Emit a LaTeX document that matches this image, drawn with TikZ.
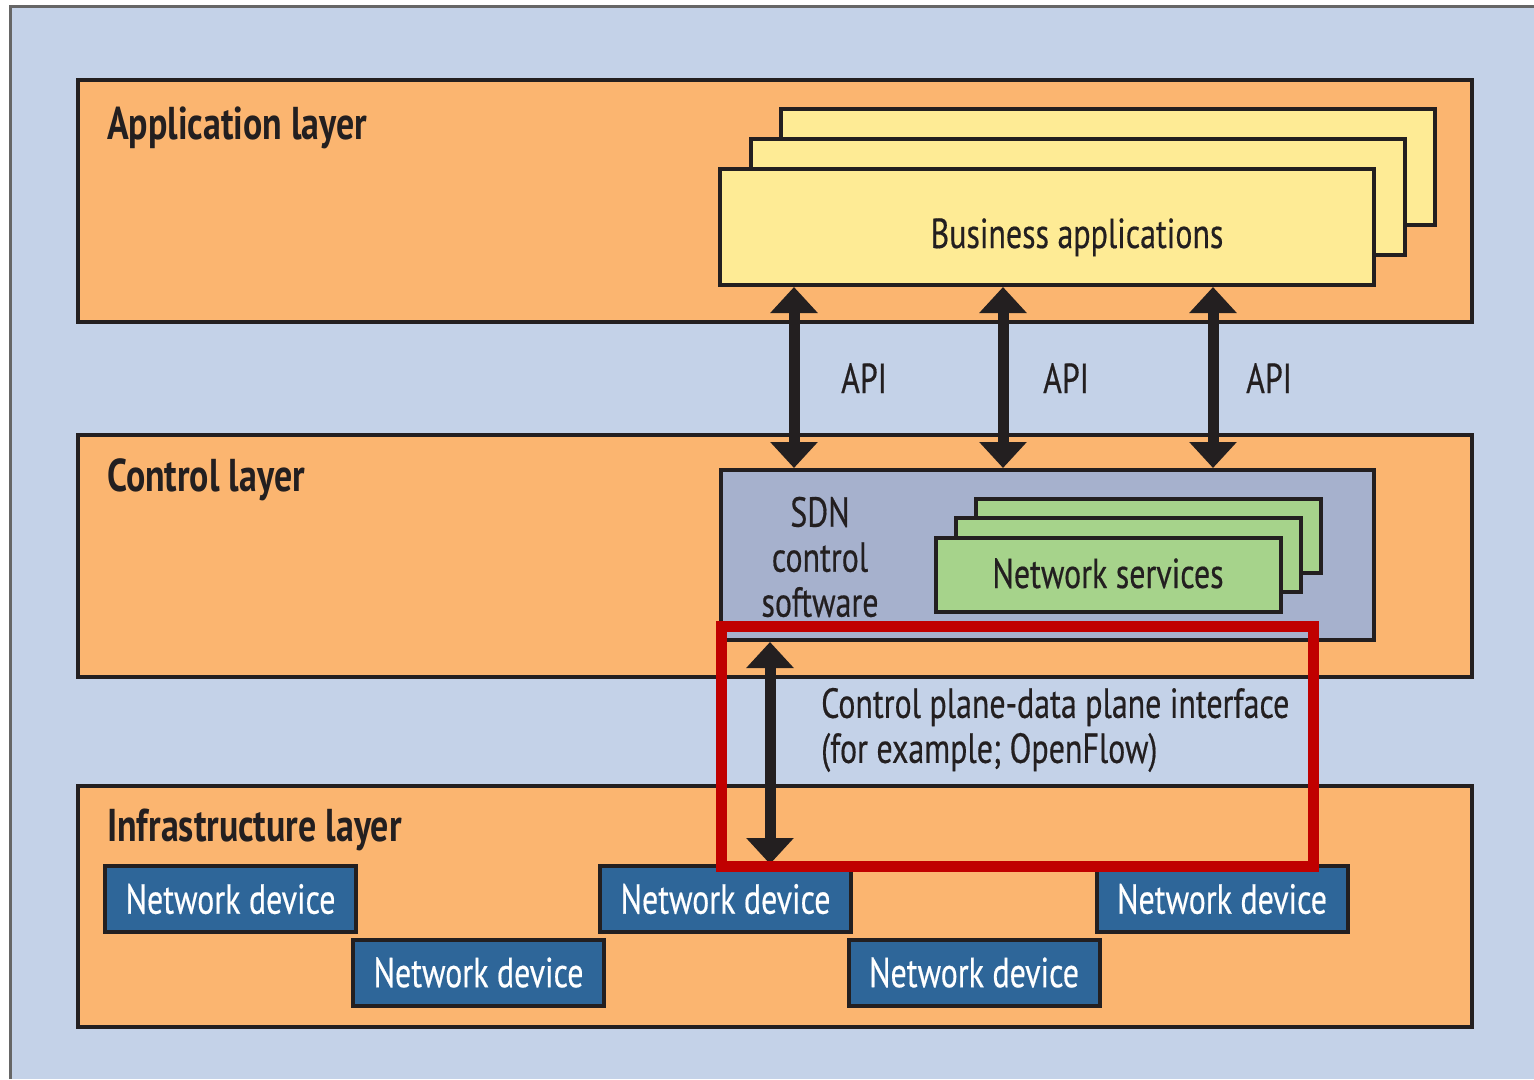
\documentclass[tikz,border=0pt]{standalone}
\usepackage{fontspec}
\setmainfont{PT Sans}[FakeStretch=0.76, UprightFeatures={FakeBold=0.4}, BoldFeatures={FakeStretch=0.78}]
\usetikzlibrary{arrows.meta}
\definecolor{bgblue}{HTML}{C4D2E8}
\definecolor{layerorange}{HTML}{FBB570}
\definecolor{appyellow}{HTML}{FEEB95}
\definecolor{sdnblue}{HTML}{A6B1CD}
\definecolor{svcgreen}{HTML}{A6D38B}
\definecolor{devblue}{HTML}{2E6699}
\definecolor{darkline}{HTML}{231F20}
\definecolor{hlred}{HTML}{C00000}
\definecolor{framegray}{HTML}{666666}
\begin{document}
\begin{tikzpicture}[x=1pt,y=-1pt,
  box/.style={draw=darkline, line width=4pt, inner sep=0pt},
  layerbox/.style={box, fill=layerorange, minimum width=1394pt, minimum height=242pt},
  appbox/.style={box, fill=appyellow, minimum width=654pt, minimum height=116pt},
  svcbox/.style={box, fill=svcgreen, minimum width=345pt, minimum height=74pt},
  devbox/.style={box, fill=devblue, minimum width=251pt, minimum height=66pt, text=white,
    font=\fontsize{42}{45}\selectfont},
  txt/.style={inner sep=0pt, text=darkline, font=\fontsize{42}{45}\selectfont},
  layerlbl/.style={inner sep=0pt, text=darkline, font=\bfseries\fontsize{46}{48}\selectfont, anchor=base west},
  biarrow/.style={draw=darkline, line width=11pt,
    {Triangle[width=46pt,length=26pt]}-{Triangle[width=46pt,length=26pt]}},
  hlbox/.style={draw=hlred, line width=11pt}
]
\useasboundingbox (0,0) rectangle (1534,1079);
\fill[white] (0,0) rectangle (1534,1079);
\fill[bgblue] (10,6) rectangle (1534,1079);
\draw[framegray, line width=3pt] (10,1079) -- (10,6) -- (1534,6);

% layers
\node[layerbox] (app) at (775,201) {};
\node[layerbox] (ctrl) at (775,556) {};
\node[layerbox, minimum height=241pt] (infra) at (775,906.5) {};
\node[layerlbl] (applbl) at (107,139) {Application layer};
\node[layerlbl] (ctrllbl) at (107,491) {Control layer};
\node[layerlbl] (infralbl) at (107,841) {Infrastructure layer};

% business applications stack
\node[appbox] (ba3) at (1108,166.5) {};
\node[appbox] (ba2) at (1077.5,197) {};
\node[appbox] (ba) at (1047,227) {};
\node[txt, anchor=base] (batext) at (1077,248) {Business applications};

% SDN control software
\node[box, fill=sdnblue, minimum width=653pt, minimum height=170pt] (sdn) at (1047.5,555) {};
\node[txt, align=center] (sdntext) at (820,557) {SDN\\control\\software};
\node[svcbox] (ns3) at (1148.5,536) {};
\node[svcbox] (ns2) at (1128.5,555) {};
\node[svcbox] (ns) at (1108.5,575) {};
\node[txt, anchor=base] (nstext) at (1108,588) {Network services};

% API arrows
\foreach \i/\dx/\lx in {1/76/841, 2/285/1043, 3/495/1246}{
  \draw[biarrow] ([xshift=\dx pt]ba.south west) -- ([xshift=\dx-1 pt]sdn.north west);
  \node[txt, anchor=base west] (api\i) at (\lx,393) {API};
}

% network devices
\node[devbox] (nd1) at (230.5,899) {Network device};
\node[devbox] (nd2) at (478.5,972.5) {Network device};
\node[devbox] (nd3) at (725.5,899) {Network device};
\node[devbox] (nd4) at (974,972.5) {Network device};
\node[devbox] (nd5) at (1222,899) {Network device};

% control plane - data plane arrow
\coordinate (cpx) at (770,0);
\draw[biarrow] (sdn.south -| cpx) -- (nd3.north -| cpx);
\node[txt, anchor=west, align=left] (cptext) at (821,730) {Control plane-data plane interface\\(for example; OpenFlow)};

% highlight
\draw[hlbox] (721,626) rectangle (1313,866);
\end{tikzpicture}
\end{document}
